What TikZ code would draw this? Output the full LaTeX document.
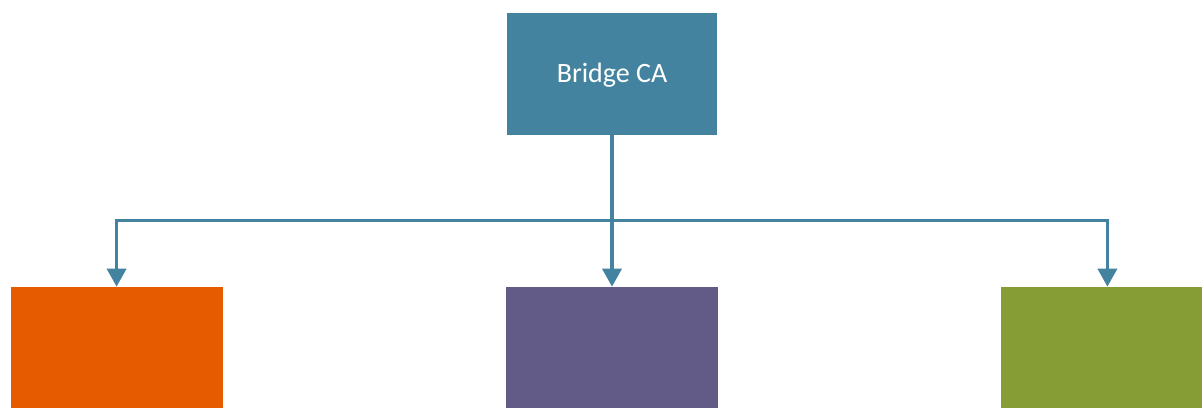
\documentclass[tikz,border=0pt]{standalone}
\usepackage{fontspec}
\setmainfont{Carlito}
\usepackage{tikz}
\usetikzlibrary {
  positioning,
  arrows.meta,
}
\definecolor{caBlue}{HTML}{44839F}
\definecolor{caOrange}{HTML}{E65A00}
\definecolor{caPurple}{HTML}{625A87}
\definecolor{caGreen}{HTML}{859D34}
\tikzset{
  ca/.style = {
    rectangle,
    fill = #1,
    minimum width = 212pt,
    minimum height = 122pt,
    inner sep = 0pt,
    text = white,
    font = \fontsize{28}{34}\selectfont
  },
  link/.style = {
    -{Triangle[width = 19pt, length = 18pt]},
    line width = 3.5pt,
    color = caBlue
  },
}

\begin{document}
\begin{tikzpicture}
  \useasboundingbox (0pt,0pt) rectangle (1202pt,-407pt);
  \node[ca = caBlue, minimum width = 210pt, text depth = 2pt] (bridge)
    at (612pt,-73.5pt) {Bridge CA};
  \node[ca = caPurple, below = 152pt of bridge] (mid) {};
  \node[ca = caOrange, left = 283pt of mid] (left) {};
  \node[ca = caGreen, right = 283pt of mid] (right) {};
  \coordinate (bus) at (612pt,-220.5pt);
  \draw[link] (bridge.south) -- (mid.north);
  \draw[link] (bus) -| (left.north);
  \draw[link] (bus) -| (right.north);
\end{tikzpicture}
\end{document}
